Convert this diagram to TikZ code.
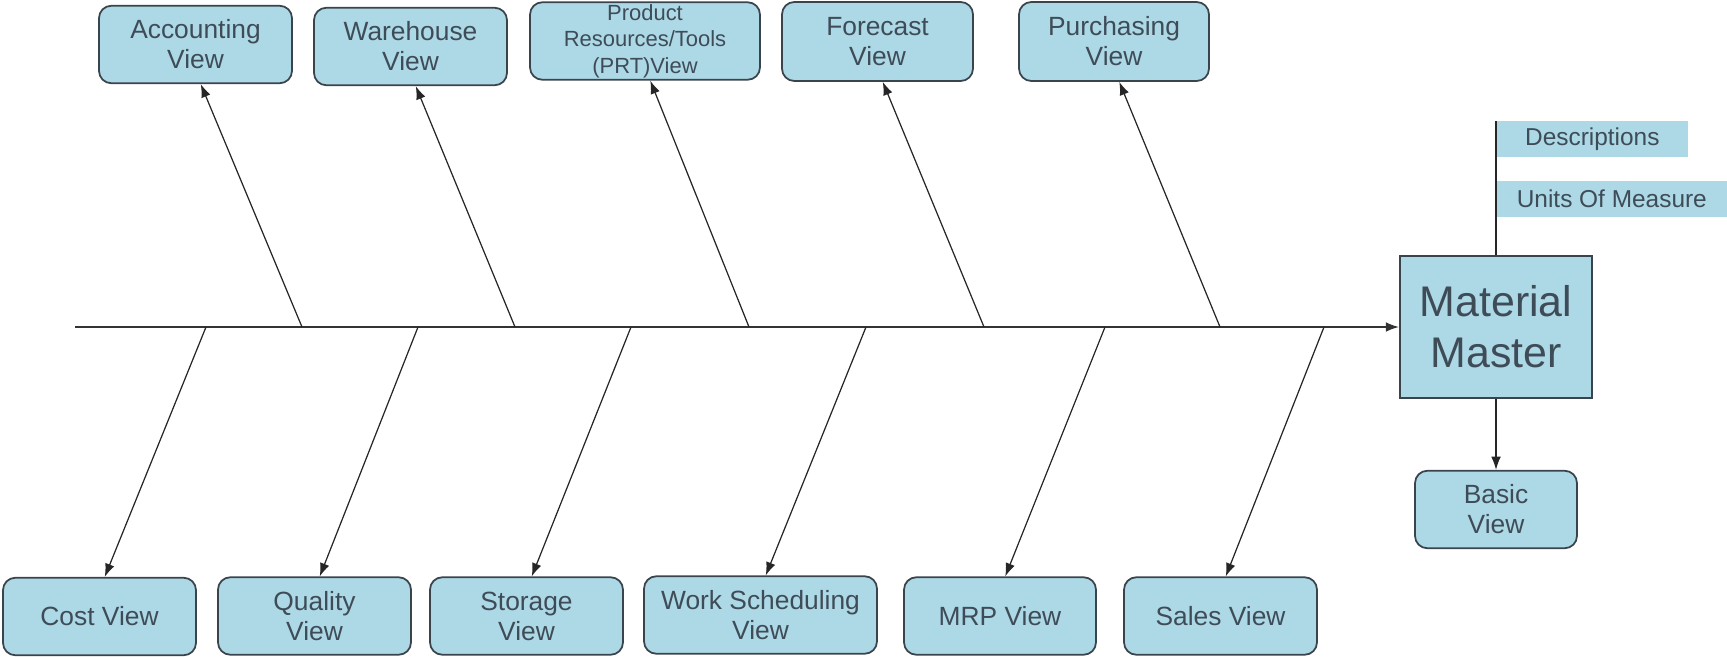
\documentclass[tikz,border=0pt]{standalone}
\usepackage{fontspec}
\setsansfont{Liberation Sans}
\usetikzlibrary{arrows.meta,positioning}
\definecolor{mmblue}{HTML}{ADD8E6}
\definecolor{mmedge}{HTML}{3A444C}
\definecolor{mmtext}{HTML}{3E4C58}
\newcommand\viewfont{\fontsize{15}{17}\selectfont}
\newcommand\prtfont{\fontsize{12.5}{15}\selectfont}
\newcommand\tagfont{\fontsize{13.9}{16}\selectfont}
\newcommand\mmfont{\fontsize{24.4}{29}\selectfont}
\tikzset{
  view/.style={draw=mmedge,line width=1pt,rounded corners=7pt,fill=mmblue,text=mmtext,
    align=center,font=\sffamily\viewfont,minimum width=3.86cm,minimum height=1.55cm,inner sep=1pt},
  tag/.style={fill=mmblue,text=mmtext,font=\sffamily\tagfont,minimum height=0.72cm,inner sep=0pt},
  bone/.style={line width=0.7pt,black!85},
  spine/.style={line width=1.1pt,black!80}
}

\begin{document}
\begin{tikzpicture}[x=0.02cm,y=-0.02cm,>={Latex[length=7.5pt,width=5.5pt]}]
  \useasboundingbox (0,0) rectangle (1727,656);
  % top row
  \node[view] (acct) at (195.5,44.5) {Accounting\\View};
  \node[view] (wh) at (410.5,46.5) {Warehouse\\View};
  \node[view,minimum width=4.6cm,font=\sffamily\prtfont] (prt) at (645,41) {Product\\Resources/Tools\\(PRT)View};
  \node[view,minimum width=3.82cm,minimum height=1.58cm] (fc) at (877.5,41.5) {Forecast\\View};
  \node[view,minimum width=3.8cm,minimum height=1.58cm] (pur) at (1114,41.5) {Purchasing\\View};
  % bottom row
  \node[view] (cost) at (99.5,616.5) {Cost View};
  \node[view] (qual) at (314.5,616) {Quality\\View};
  \node[view] (stor) at (526.5,616) {Storage\\View};
  \node[view,minimum width=4.66cm] (work) at (760.5,615) {Work Scheduling\\View};
  \node[view,minimum width=3.84cm] (mrp) at (1000,616) {MRP View};
  \node[view] (sales) at (1220.5,616) {Sales View};
  % head
  \node[draw=mmedge,line width=1pt,fill=mmblue,text=mmtext,align=center,font=\sffamily\mmfont,
    minimum width=3.84cm,minimum height=2.84cm] (mm) at (1496,327) {Material\\Master};
  \node[view,minimum width=3.24cm] (basic) at (1496,509.5) {Basic\\View};
  \coordinate (top) at (1496,121);
  \node[tag,minimum width=3.84cm,anchor=north west] (desc) at (top) {Descriptions};
  \node[tag,minimum width=4.62cm,anchor=west] (uom) at (1496,199) {Units Of Measure};
  % connectors
  \coordinate (tail) at (75,327);
  \draw[spine,->] (tail) -- (mm.west);
  \draw[bone] (mm.north) -- (top);
  \draw[bone,->] (mm.south) -- (basic.north);
  \foreach \x/\n in {302/acct,515/wh,749/prt,984/fc,1220/pur}{
    \coordinate (s\n) at (\x,327);
    \draw[bone,->] (s\n) -- ([xshift=3]\n.south);}
  \foreach \x/\n in {206/cost,418/qual,631/stor,866/work,1105/mrp,1324/sales}{
    \coordinate (s\n) at (\x,327);
    \draw[bone,->] (s\n) -- ([xshift=3]\n.north);}
\end{tikzpicture}
\end{document}
